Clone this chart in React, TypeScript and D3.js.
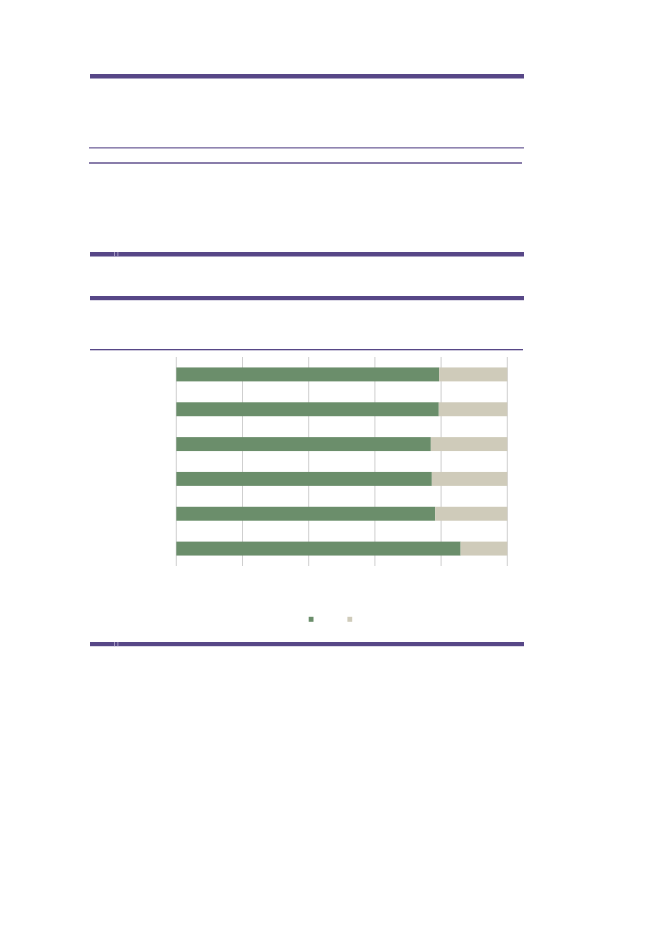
import { useEffect, useRef } from "react";
import * as d3 from "d3";

// six unlabeled rows, stacked shares in percent
const rows = ["r1", "r2", "r3", "r4", "r5", "r6"];
const greenShare = [79.4, 79.3, 76.9, 77.2, 78.2, 85.9];
const beigeShare = [20.6, 20.7, 23.1, 22.8, 21.8, 14.1];
const xTicks = [0, 20, 40, 60, 80, 100];

const GREEN = "#6b8e6b";
const BEIGE = "#cfcbba";
const PURPLE = "#574787";

export default function App() {
  const svgRef = useRef<SVGSVGElement>(null);

  useEffect(() => {
    if (!svgRef.current) return;
    const svg = d3.select(svgRef.current);
    svg.selectAll("*").remove();

    // page rules of the surrounding document
    const band = (y: number, h: number, color: string, x0 = 90, x1 = 524) =>
      svg.append("rect").attr("x", x0).attr("y", y).attr("width", x1 - x0).attr("height", h).attr("fill", color);

    band(74, 4.5, PURPLE);
    band(147, 1.6, "#8f84b0", 89, 524);
    band(162.3, 1.4, PURPLE, 89, 522);
    band(252, 4.5, PURPLE);
    svg.append("rect").attr("x", 114).attr("y", 252).attr("width", 0.8).attr("height", 4.5).attr("fill", "#b8aed2");
    svg.append("rect").attr("x", 117.5).attr("y", 252).attr("width", 0.8).attr("height", 4.5).attr("fill", "#b8aed2");

    band(296, 4.2, PURPLE);
    band(349, 1.3, PURPLE, 90, 523);
    band(642, 4.2, PURPLE);
    svg.append("rect").attr("x", 114).attr("y", 642).attr("width", 0.8).attr("height", 4.2).attr("fill", "#b8aed2");
    svg.append("rect").attr("x", 117.5).attr("y", 642).attr("width", 0.8).attr("height", 4.2).attr("fill", "#b8aed2");

    // chart
    const x = d3.scaleLinear().domain([0, 100]).range([176.3, 507.3]);
    const y = d3.scaleBand<string>().domain(rows).range([357, 566]).paddingInner(0.6).paddingOuter(0.3);

    const g = svg.append("g");

    g.selectAll("line.grid")
      .data(xTicks)
      .join("line")
      .attr("class", "grid")
      .attr("x1", (d) => x(d))
      .attr("x2", (d) => x(d))
      .attr("y1", 357)
      .attr("y2", 566)
      .attr("stroke", "#c3c3c3")
      .attr("stroke-width", 0.8);

    g.selectAll("rect.green")
      .data(rows)
      .join("rect")
      .attr("class", "green")
      .attr("x", x(0))
      .attr("y", (d) => y(d)!)
      .attr("width", (_, i) => x(greenShare[i]) - x(0))
      .attr("height", y.bandwidth())
      .attr("fill", GREEN);

    g.selectAll("rect.beige")
      .data(rows)
      .join("rect")
      .attr("class", "beige")
      .attr("x", (_, i) => x(greenShare[i]))
      .attr("y", (d) => y(d)!)
      .attr("width", (_, i) => x(greenShare[i] + beigeShare[i]) - x(greenShare[i]))
      .attr("height", y.bandwidth())
      .attr("fill", BEIGE);

    // legend swatches
    const legend = [GREEN, BEIGE];
    svg.selectAll("rect.legend")
      .data(legend)
      .join("rect")
      .attr("class", "legend")
      .attr("x", (_, i) => 308.7 + i * 38.7)
      .attr("y", 616.8)
      .attr("width", 4.8)
      .attr("height", 5)
      .attr("fill", (d) => d);
  }, []);

  return (
    <svg
      ref={svgRef}
      width={661}
      height={933}
      style={{ position: "absolute", left: 0, top: 0, background: "#fff" }}
    />
  );
}
